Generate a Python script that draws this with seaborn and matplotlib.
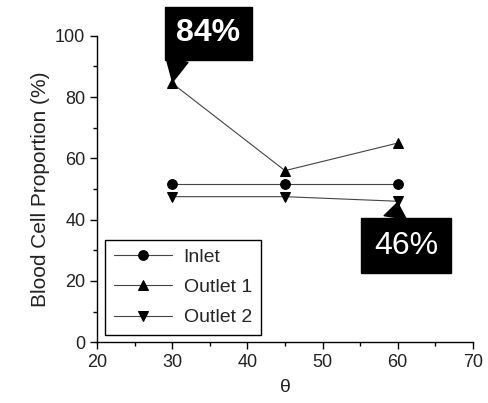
import matplotlib
matplotlib.use("Agg")

import matplotlib.pyplot as plt
import pandas as pd
import seaborn as sns
from matplotlib.ticker import MultipleLocator

theta = [30, 45, 60]
inlet = [51.5, 51.5, 51.5]
outlet1 = [84.5, 56.0, 65.0]
outlet2 = [47.5, 47.5, 46.0]
series_names = ["Inlet", "Outlet 1", "Outlet 2"]
series_markers = ["o", "^", "v"]

sns.set_theme(style="ticks")
plt.rcParams["font.family"] = ["Liberation Sans", "DejaVu Sans"]

df = pd.DataFrame({
    "theta": theta * 3,
    "value": inlet + outlet1 + outlet2,
    "series": [n for n in series_names for _ in theta],
})

fig = plt.figure(figsize=(4.88, 4.03), dpi=100)
ax = fig.add_axes([0.199, 0.151, 0.77, 0.76])

for name, mk in zip(series_names, series_markers):
    sub = df[df["series"] == name]
    sns.lineplot(data=sub, x="theta", y="value", ax=ax, label=name,
                 color="#444444", linewidth=0.8, marker=mk, markersize=7,
                 markerfacecolor="black", markeredgecolor="black")

ax.set_xlim(20, 70)
ax.set_ylim(0, 100)
ax.xaxis.set_major_locator(MultipleLocator(10))
ax.xaxis.set_minor_locator(MultipleLocator(5))
ax.yaxis.set_major_locator(MultipleLocator(20))
ax.yaxis.set_minor_locator(MultipleLocator(10))
ax.tick_params(which="major", direction="out", length=5, width=1, labelsize=13,
               color="black", labelcolor="#222222")
ax.tick_params(which="minor", direction="out", length=3, width=1, color="black")
ax.spines["top"].set_visible(False)
ax.spines["right"].set_visible(False)
for s in ("left", "bottom"):
    ax.spines[s].set_color("black")
    ax.spines[s].set_linewidth(1)

ax.set_xlabel("θ", fontsize=14, color="#222222", labelpad=6)
ax.set_ylabel("Blood Cell Proportion (%)", fontsize=15, color="#222222",
              labelpad=4)

leg = ax.legend(loc="lower left", bbox_to_anchor=(0.01, 0.01), fontsize=14,
                frameon=True, fancybox=False, handlelength=3.0,
                handletextpad=0.6, borderpad=0.45, labelspacing=0.65,
                borderaxespad=0.2)
leg.get_frame().set_edgecolor("black")
leg.get_frame().set_linewidth(1)
leg.get_frame().set_alpha(1)

ax.annotate("84%", xy=(30, outlet1[0]), xytext=(34.8, 100.8),
            ha="center", va="center", color="white", fontsize=23,
            fontweight="bold", annotation_clip=False,
            bbox=dict(boxstyle="square,pad=0.35", fc="black", ec="black"),
            arrowprops=dict(arrowstyle="wedge,tail_width=0.7", fc="black",
                            ec="black", shrinkA=0, shrinkB=1,
                            relpos=(0.05, 0.0)))
ax.annotate("46%", xy=(60, outlet2[2]), xytext=(61.1, 31.5),
            ha="center", va="center", color="white", fontsize=23,
            annotation_clip=False,
            bbox=dict(boxstyle="square,pad=0.4", fc="black", ec="black"),
            arrowprops=dict(arrowstyle="wedge,tail_width=0.7", fc="black",
                            ec="black", shrinkA=0, shrinkB=1,
                            relpos=(0.3, 1.0)))

fig.savefig("out.png", dpi=100)
plt.close(fig)
